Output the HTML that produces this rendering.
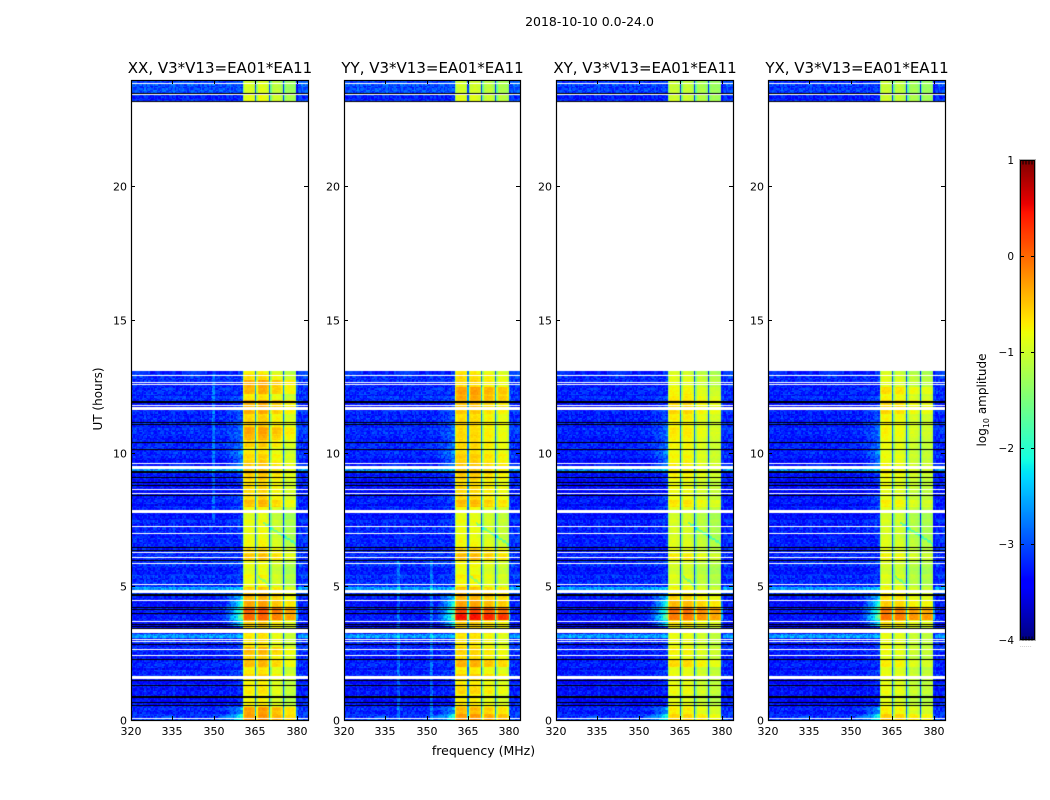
<!DOCTYPE html>
<html lang="en">
<head>
<meta charset="utf-8">
<title>2018-10-10 0.0-24.0</title>
<style>
html,body{margin:0;padding:0;background:#fff;width:1050px;height:800px;overflow:hidden}
#figure{position:relative;width:1050px;height:800px;font-family:"DejaVu Sans","Liberation Sans",sans-serif}
canvas{position:absolute;display:block}
svg{position:absolute;left:0;top:0}
text{font-family:"DejaVu Sans","Liberation Sans",sans-serif;fill:#000}
</style>
</head>
<body>
<div id="figure">
<svg id="overlay" width="1050" height="800">
<text x="589.5" y="26" text-anchor="middle" font-size="12.5">2018-10-10 0.0-24.0</text>
<text x="483.5" y="755" text-anchor="middle" font-size="12.5">frequency (MHz)</text>
<text transform="translate(102,399) rotate(-90)" text-anchor="middle" font-size="12">UT (hours)</text>
<text transform="translate(986,400) rotate(-90)" text-anchor="middle" font-size="12">log<tspan font-size="8" dy="3">10</tspan><tspan dy="-3"> amplitude</tspan></text>
<text x="1026" y="647" text-anchor="middle" font-size="5" fill="#777" letter-spacing="0.4" style="fill:#777">......</text>
</svg>
</div>
<script>
/* ---- chart values ---- */
const panelTitles = ["XX, V3*V13=EA01*EA11","YY, V3*V13=EA01*EA11","XY, V3*V13=EA01*EA11","YX, V3*V13=EA01*EA11"];
const xTicks = [320,335,350,365,380];
const yTicks = [0,5,10,15,20];
const colorTicks = [1,0,-1,-2,-3,-4];
const freqRange = [320,384];
const hourRange = [0,24];
const colorRange = [-4,1];

/* log10 amplitude of the high band, one value every 0.25 h from 0 to 13 h */
const highXX = [-.3,-.35,-.8,-.85,-.75,-.8,-.65,-.75,-.5,-.6,-.5,-.75,-.75,-.65,-.55,-.05,0,-.35,-.5,-.6,-.9,-.85,-.9,-.9,-.55,-.65,-.85,-.9,-.9,-.9,-.95,-.85,-.5,-.65,-.65,-.7,-.6,-.55,-.55,-.65,-.75,-.6,-.45,-.4,-.6,-.65,-.45,-.4,-.75,-.45,-.4,-.7,-.8];
const highYY = [-.3,-.5,-.75,-.8,-.65,-.75,-.6,-.75,-.45,-.65,-.65,-.75,-.75,-.6,-.55,.4,.1,-.35,-.5,-.55,-.85,-.8,-.85,-.85,-.5,-.6,-.85,-.9,-.9,-.9,-.9,-.85,-.5,-.65,-.65,-.7,-.6,-.55,-.55,-.6,-.7,-.65,-.65,-.7,-.65,-.7,-.6,-.5,-.4,-.35,-.65,-.7,-.75];
const highXY = [-.6,-.75,-.9,-.95,-.85,-.9,-.85,-.9,-.65,-.85,-.8,-.9,-.9,-.8,-.65,-.15,-.1,-.45,-.65,-.8,-1,-.95,-1,-1,-.75,-.9,-.95,-1,-1,-1,-1,-.95,-.7,-.85,-.85,-.9,-.8,-.75,-.75,-.8,-.85,-.8,-.75,-.75,-.8,-.75,-.65,-.6,-.75,-.8,-.9,-.95,-1];
const highYX = [-.55,-.75,-.9,-.95,-.85,-.9,-.85,-.9,-.75,-.9,-.85,-.9,-.9,-.8,-.65,-.1,-.15,-.55,-.7,-.8,-1,-.95,-1,-1,-.8,-.9,-.95,-1,-1,-1,-1,-.95,-.75,-.9,-.9,-.9,-.85,-.75,-.8,-.85,-.9,-.85,-.8,-.8,-.8,-.8,-.65,-.6,-.8,-.65,-.9,-.95,-1];
const highByPanel = [highXX,highYY,highXY,highYX];
const highBandStart = 360.5;
const highBandEnd = 380.5;

/* background level outside the high band, every 0.25 h from 0 to 13 h */
const lowBand = [-3.1,-3.2,-3.33,-3.33,-3.33,-3.33,-3.25,-3.25,-3.25,-3.25,-3.25,-3.25,-3.28,-3.28,-3.3,-3.3,-3.3,-3.3,-3.3,-3.2,-3.2,-3.2,-3.2,-3.2,-3.2,-3.2,-3.25,-3.25,-3.25,-3.25,-3.25,-3.25,-3.28,-3.28,-3.36,-3.36,-3.36,-3.3,-3.25,-3.25,-3.22,-3.22,-3.22,-3.22,-3.25,-3.25,-3.25,-3.25,-3.2,-3.2,-3.2,-3.2,-3.2];
const lowOffsets = [0,0,-.04,-.04];
/* strength of the skirt rising towards the high band, every 0.25 h from 0 to 13 h */
const skirt = [.7,.4,.08,.08,.08,.08,.08,.08,.1,.1,.08,.08,.08,.08,.75,1,1,.9,.55,.15,.05,.05,.05,.05,.05,.05,.05,.05,.1,.1,.05,.05,.15,.2,.1,.1,.15,.15,.25,.3,.3,.25,.3,.2,.2,.15,.15,.1,.05,.05,.05,.05,.05];
const subbandOffsets = [[0,.05,-.15,-.35],[.02,.02,-.1,-.2],[0,0,-.15,-.25],[0,-.05,-.2,-.25]];
/* 0.5 MHz channel response inside each 5 MHz subband */
const channelShape = [-.45,0,.03,.05,.05,.05,.03,0,-.12,-2.1];
/* top block 23.2-24 h: high band and background, [lower, upper] */
const topHigh = [[-.9,-1],[-.95,-1.05],[-1.05,-1.1],[-1.05,-1.1]];
const topLow = [[-3.25,-3.02],[-3.25,-3.02],[-3.28,-3.1],[-3.28,-3.12]];
/* narrow interference lines in the background: frequency, first hour, last hour */
const rfiFreqs = [[350],[340,352],[],[]];
const rfiFirstHour = [7.5,0,0,0];
const rfiLastHour = [13,6,0,0];
/* rows with a raised background level (hours) */
const brightStarts = [3.11,4.86,9.32];
const brightEnds = [3.26,4.99,9.43];
const brightLevel = -2.65;
/* diagonal dips crossing the high band: MHz and hour at each end */
const dipFreq0 = [366,368];
const dipFreq1 = [370,380];
const dipHour0 = [5.4,7.4];
const dipHour1 = [5.1,6.6];
const dipDepth = -.6;
/* flagged rows (hours) */
const whiteFlags = [.06,2.42,2.65,2.95,3.02,3.7,4.485,5.085,5.87,6.1,6.285,6.997,7.26,8.5,8.647,9.62,11.8,12.585,12.66,12.92,23.46,23.87];
const whiteBandStarts = [1.52,3.26,4.76,7.76,9.43,11.64];
const whiteBandEnds = [1.65,3.41,4.86,7.875,9.525,11.74];
const blackFlags = [.55,.66,1.3,1.485,2.27,2.835,3.435,3.51,3.585,4,4.15,4.22,5.985,6.36,6.47,8.42,8.8,8.91,9.1,10.15,10.41,11.085,11.16,23.195,23.5];
const blackBandStarts = [.825,4.65,9.24,11.906];
const blackBandEnds = [.9,4.725,9.32,11.98];
const dataEndHour = 13.05;
const dataResumeHour = 23.2;
/* fixed speckle table standing in for the unresolved pixel-level noise */
const speckle = [.12,-.18,.05,.22,-.1,-.25,.16,.02,-.14,.28,-.06,.09,-.22,.18,-.03,.13,-.17,.07,.24,-.12,-.28,.1,.03,-.09,.2,-.15,.14,-.02,-.2,.26,-.07,.06,-.24,.17,.01,-.13,.11,.19,-.16,-.05,.08];

/* ---- layout ---- */
const panelLefts = [131,344,556,768];
const panelWidths = [177,176,177,177];
const plotTop = 80;
const plotBottom = 720;
const cbar = {x:1020,y:160,w:15,h:480};
const SVGNS = "http://www.w3.org/2000/svg";
const overlay = document.getElementById('overlay');
const figure = document.getElementById('figure');

function xOf(p,f){return panelLefts[p]+(f-freqRange[0])/(freqRange[1]-freqRange[0])*panelWidths[p];}
function yOf(h){return plotBottom-(h-hourRange[0])/(hourRange[1]-hourRange[0])*(plotBottom-plotTop);}
function cbarY(v){return cbar.y+(colorRange[1]-v)/(colorRange[1]-colorRange[0])*cbar.h;}

function jet(t){
  t=Math.max(0,Math.min(1,t));
  function seg(pts){for(let i=1;i<pts.length;i++){if(t<=pts[i][0]){const a=pts[i-1],b=pts[i];return a[1]+(b[1]-a[1])*(t-a[0])/(b[0]-a[0]);}}return pts[pts.length-1][1];}
  const r=seg([[0,0],[.35,0],[.66,1],[.89,1],[1,.5]]);
  const g=seg([[0,0],[.125,0],[.375,1],[.64,1],[.91,0],[1,0]]);
  const b=seg([[0,.5],[.11,1],[.34,1],[.65,0],[1,0]]);
  return 'rgb('+Math.round(r*255)+','+Math.round(g*255)+','+Math.round(b*255)+')';
}
function colorOf(v){return jet((v-colorRange[0])/(colorRange[1]-colorRange[0]));}

function cellValue(p,f,h,i,j){
  const n=speckle[(i*i*3+j*j*5+i*j)%speckle.length];
  const rowN=speckle[(j*7)%speckle.length]*.35;
  const top=h>=dataResumeHour;
  const k=Math.min(lowBand.length-1,Math.floor(h/.25));
  const upper=h>=23.5?1:0;
  let low=top?topLow[p][upper]:lowBand[k]+lowOffsets[p];
  if(!top){for(let b=0;b<brightStarts.length;b++){if(h>=brightStarts[b]&&h<brightEnds[b])low=brightLevel;}}
  if(f>=highBandStart&&f<highBandEnd){
    const rel=f-highBandStart;
    const sb=Math.floor(rel/5);
    const ch=Math.min(channelShape.length-1,Math.floor((rel-sb*5)/.5+1e-6));
    const base=top?topHigh[p][upper]:highByPanel[p][k];
    let v=base+subbandOffsets[p][sb]+channelShape[ch]+n*.25+rowN*.5;
    if(!top){
      for(let d=0;d<dipFreq0.length;d++){
        if(f>=dipFreq0[d]&&f<=dipFreq1[d]){
          const s=(f-dipFreq0[d])/(dipFreq1[d]-dipFreq0[d]);
          const hc=dipHour0[d]+(dipHour1[d]-dipHour0[d])*s;
          if(Math.abs(hc-h)<.05)v+=dipDepth;
        }
      }
    }
    return v;
  }
  let v=low+n+rowN;
  if(f<highBandStart&&f>=349&&!top){
    const ramp=Math.pow((f-349)/11.5,2.6);
    v+=ramp*skirt[k]*1.7;
  }
  if(f>=highBandEnd)v+=.08;
  if(!top&&h>=rfiFirstHour[p]&&h<=rfiLastHour[p]&&rfiFreqs[p].some(function(q){return Math.abs(q-f)<.26;}))v+=.4;
  return v;
}

function makeHeatmap(p){
  const c=document.createElement('canvas');
  
  
  c.width=panelWidths[p];c.height=plotBottom-plotTop;
  c.style.left=panelLefts[p]+'px';c.style.top=plotTop+'px';
  figure.insertBefore(c,overlay);
  const g=c.getContext('2d');
  const df=.5,dh=.05;
  const cols=Math.round((freqRange[1]-freqRange[0])/df);
  const rows=Math.round((hourRange[1]-hourRange[0])/dh);
  for(let j=0;j<rows;j++){
    const h=j*dh;
    if(h+dh/2>dataEndHour&&h+dh/2<dataResumeHour)continue;
    const y0=Math.floor(yOf(h+dh)-plotTop),y1=Math.ceil(yOf(h)-plotTop);
    for(let i=0;i<cols;i++){
      const f=freqRange[0]+i*df;
      const x0=Math.floor(xOf(p,f)-panelLefts[p]),x1=Math.ceil(xOf(p,f+df)-panelLefts[p]);
      g.fillStyle=colorOf(cellValue(p,f+df/2,h+dh/2,i,j));
      g.fillRect(x0,y0,x1-x0,y1-y0);
    }
  }
  function band(h0,h1,col){
    const y0=yOf(h1)-plotTop,y1=yOf(h0)-plotTop;
    g.fillStyle=col;g.fillRect(0,Math.round(y0),panelWidths[p],Math.max(1,Math.round(y1-y0)));
  }
  whiteBandStarts.forEach(function(s,b){band(s,whiteBandEnds[b],'#fff');});
  blackBandStarts.forEach(function(s,b){band(s,blackBandEnds[b],'#000');});
  whiteFlags.forEach(function(h){band(h-.015,h+.015,'#fff');});
  blackFlags.forEach(function(h){band(h-.015,h+.015,'#000');});
}

function line(x1,y1,x2,y2){
  const l=document.createElementNS(SVGNS,'line');
  l.setAttribute('x1',x1);l.setAttribute('y1',y1);l.setAttribute('x2',x2);l.setAttribute('y2',y2);
  l.setAttribute('stroke','#000');l.setAttribute('stroke-width','1');
  overlay.appendChild(l);
  return l;
}
function label(x,y,str,anchor,size){
  const t=document.createElementNS(SVGNS,'text');
  t.setAttribute('x',x);t.setAttribute('y',y);
  t.setAttribute('text-anchor',anchor);t.setAttribute('font-size',size);
  t.textContent=str;
  overlay.appendChild(t);
  return t;
}

function drawAxes(p){
  const L=panelLefts[p],R=L+panelWidths[p];
  xTicks.forEach(function(f){
    const x=Math.round(xOf(p,f))+.5;
    const a=line(x,plotBottom,x,plotBottom-4);
    
    
    const b=line(x,plotTop,x,plotTop+4);
    
    
    const t=label(x-.5,plotBottom+15,String(f),'middle',11);
    
    
  });
  yTicks.forEach(function(h){
    const y=Math.floor(yOf(h))+.5;
    const a=line(L,y,L+4,y);
    
    
    const b=line(R,y,R-4,y);
    
    
    const t=label(L-4,y+4,String(h),'end',11);
    
    
  });
  const r=document.createElementNS(SVGNS,'rect');
  r.setAttribute('x',L+.5);r.setAttribute('y',plotTop+.5);
  r.setAttribute('width',panelWidths[p]);r.setAttribute('height',plotBottom-plotTop);
  r.setAttribute('fill','none');r.setAttribute('stroke','#000');r.setAttribute('stroke-width','1.2');
  
  
  overlay.appendChild(r);
  const title=label(L+panelWidths[p]/2+.5,73,panelTitles[p],'middle',15);
  
  
}

function drawColorbar(){
  const c=document.createElement('canvas');
  
  
  c.width=cbar.w;c.height=cbar.h;
  c.style.left=cbar.x+'px';c.style.top=cbar.y+'px';
  figure.insertBefore(c,overlay);
  const g=c.getContext('2d');
  for(let y=0;y<cbar.h;y++){
    const v=colorRange[1]-(y+.5)/cbar.h*(colorRange[1]-colorRange[0]);
    g.fillStyle=colorOf(v);
    g.fillRect(0,y,cbar.w,1);
  }
  const outer=document.createElementNS(SVGNS,'rect');
  outer.setAttribute('x',cbar.x-.5);outer.setAttribute('y',cbar.y-.5);
  outer.setAttribute('width',cbar.w+1);outer.setAttribute('height',cbar.h+1);
  outer.setAttribute('fill','none');outer.setAttribute('stroke','#b0b0b0');outer.setAttribute('stroke-width','1');
  
  
  overlay.appendChild(outer);
  const fr=document.createElementNS(SVGNS,'rect');
  fr.setAttribute('x',cbar.x+.5);fr.setAttribute('y',cbar.y+.5);
  fr.setAttribute('width',cbar.w-1);fr.setAttribute('height',cbar.h-1);
  fr.setAttribute('fill','none');fr.setAttribute('stroke','#000');fr.setAttribute('stroke-width','1');
  
  
  overlay.appendChild(fr);
  colorTicks.forEach(function(v){
    const y=Math.round(cbarY(v))+.5;
    const isEnd=(v===colorRange[0]||v===colorRange[1]);
    if(isEnd){
      for(let k=1;k<5;k++){
        const x=cbar.x+k*3;
        const dir=v===colorRange[1]?1:-1;
        const m=line(x,y,x,y+dir*4);
        
        
      }
    } else {
      const a=line(cbar.x,y,cbar.x+4,y);
      
      
      const b=line(cbar.x+cbar.w-4,y,cbar.x+cbar.w,y);
      
      
    }
    const t=label(cbar.x-6,y+3.5,v<0?'\u2212'+Math.abs(v):String(v),'end',10.5);
    
    
  });
}

for(let p=0;p<panelTitles.length;p++){makeHeatmap(p);drawAxes(p);}
drawColorbar();
</script>
</body>
</html>
